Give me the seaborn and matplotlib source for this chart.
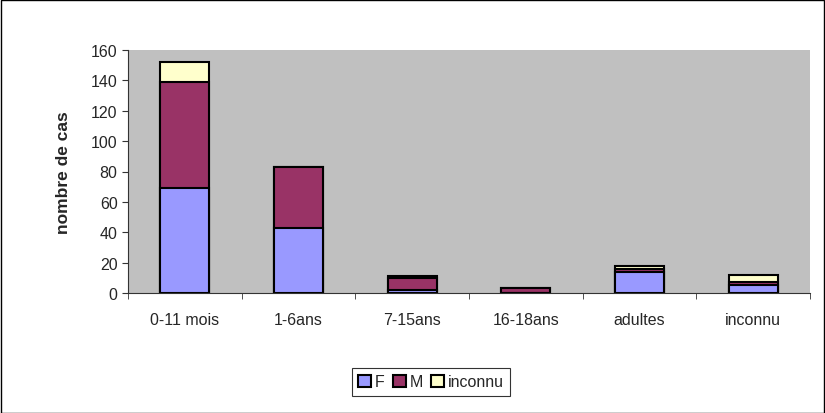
import numpy as np
import matplotlib
matplotlib.use("Agg")
import matplotlib.pyplot as plt
import seaborn as sns
import pandas as pd

# donnees
categories = ["0-11 mois", "1-6ans", "7-15ans", "16-18ans", "adultes", "inconnu"]
F = [69, 43, 2, 0, 14, 5]
M = [70, 40, 8, 3, 2, 2]
inconnu = [13, 0, 1, 0, 2, 5]

couleurs = {"F": "#9999FF", "M": "#993366", "inconnu": "#FFFFCC"}

sns.set_style("white")
plt.rcParams["font.family"] = ["Liberation Sans", "DejaVu Sans"]

fig = plt.figure(figsize=(8.25, 4.14), dpi=100)
ax = fig.add_axes([128/825, 1 - 294/414, 682/825, 243/414])
ax.set_facecolor("#C0C0C0")

df = pd.DataFrame({"cat": categories, "F": F, "M": M, "inconnu": inconnu})
df["FM"] = df["F"] + df["M"]
df["tot"] = df["FM"] + df["inconnu"]

# on dessine les cumuls du plus haut au plus bas
for col, serie in [("tot", "inconnu"), ("FM", "M"), ("F", "F")]:
    sns.barplot(data=df, x="cat", y=col, color=couleurs[serie], width=0.43,
                edgecolor="black", linewidth=1.5, saturation=1, ax=ax, label=serie)

ax.set_ylim(0, 160)
ax.set_yticks(np.arange(0, 161, 20))
ax.set_xlim(-0.5, len(categories) - 0.5)
ax.set_xlabel("")
ax.set_ylabel("nombre de cas", fontsize=12.5, fontweight="bold", labelpad=14)
ax.tick_params(axis="y", labelsize=11.5, length=4, direction="out", left=True, color="#333333")
ax.tick_params(axis="x", which="major", labelsize=11.5, length=0, pad=14)
ax.set_xticks(np.arange(-0.5, len(categories)), minor=True)
ax.tick_params(axis="x", which="minor", length=4, direction="out", bottom=True, color="#333333")
for s in ["top", "right"]:
    ax.spines[s].set_visible(False)
for s in ["left", "bottom"]:
    ax.spines[s].set_color("#333333")

h, l = ax.get_legend_handles_labels()
if ax.get_legend() is not None:
    ax.get_legend().remove()
ordre = [l.index("F"), l.index("M"), l.index("inconnu")]
leg = fig.legend([h[i] for i in ordre], ["F", "M", "inconnu"], loc="center",
                 bbox_to_anchor=(431/825, 1 - 383/414), ncol=3, frameon=True,
                 fancybox=False, edgecolor="black", fontsize=11.5, handlelength=0.8,
                 handleheight=0.8, handletextpad=0.25, columnspacing=0.5,
                 borderpad=0.4, borderaxespad=0)
leg.get_frame().set_linewidth(0.8)

fig.patches.append(plt.Rectangle((0.001, 0.001), 0.998, 0.997, transform=fig.transFigure,
                                 fill=False, edgecolor="black", linewidth=1))

fig.savefig("out.png", dpi=100)
